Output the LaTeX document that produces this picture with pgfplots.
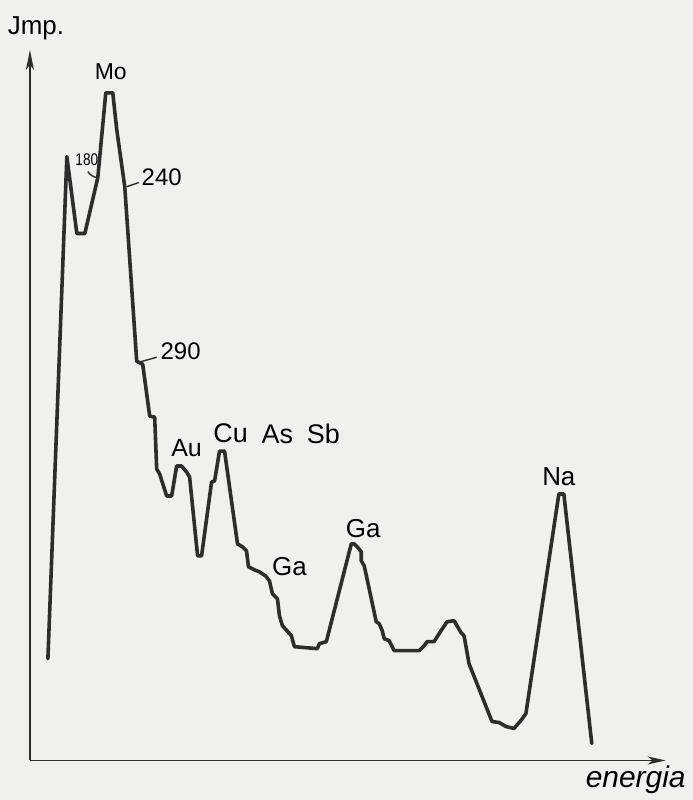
\documentclass[border=0pt]{standalone}
\usepackage{fontspec}
\setmainfont{Liberation Sans}
\usepackage{pgfplots}
\pgfplotsset{compat=1.18}
\usepackage{pgfplotstable}
\usetikzlibrary{arrows.meta,backgrounds}

\definecolor{paper}{RGB}{240,240,238}
\definecolor{ink}{RGB}{45,45,45}

% Spectrum trace: energy channel vs. counts (Jmp.)
\pgfplotstableread{
x   y
48  140
67  643
77  566
85  566
98  622
106 707
113 707
117 670
125 613
137 438
143 435
150 383
155 382
157 330
160 325
167 303
172 303
177 333
182 333
187 327
190 322
198 243
202 243
212 317
215 318
220 348
225 348
238 255
243 252
247 248
249 232
255 229
260 227
266 223
270 218
273 205
278 200
280 183
283 173
292 163
295 152
318 150
320 155
327 157
352 255
355 255
358 252
362 247
362 238
365 233
377 177
380 175
383 168
385 160
390 158
395 148
420 148
425 153
428 157
435 157
440 165
448 177
455 178
458 173
462 166
465 163
470 135
493 77
500 76
507 72
515 70
522 78
527 85
560 305
565 305
593 55
}\spectrum

\begin{document}
\begin{tikzpicture}[show background rectangle,
  background rectangle/.style={fill=paper,draw=none},
  inner frame sep=0pt]
\begin{axis}[
  x=0.5pt, y=0.5pt,
  xmin=30, xmax=667, ymin=38, ymax=750,
  axis lines=left,
  axis line style={ink, line width=0.9pt},
  x axis line style={-{Stealth[length=9pt,width=4pt,inset=2.5pt]}},
  y axis line style={-{Stealth[length=10pt,width=4pt,inset=2.5pt]}},
  xtick=\empty, ytick=\empty,
  clip=false,
]
  \path (axis cs:0,0) rectangle (axis cs:694,800);

  \addplot[ink, line width=1.8pt, line join=round, line cap=round]
    table[x=x,y=y] {\spectrum};

  % leaders from the channel numbers to the trace
  \draw[ink, line width=0.7pt] (axis cs:88,628) to[bend right=20] (axis cs:97,622);
  \draw[ink, line width=0.7pt] (axis cs:127,613) -- (axis cs:139,617);
  \draw[ink, line width=0.7pt] (axis cs:139,437) -- (axis cs:157,442);

  \node[font=\fontsize{13}{15}\selectfont, anchor=base] at (axis cs:36,765) {Jmp.};
  \node[font=\fontsize{11.5}{13}\selectfont] at (axis cs:111,728) {Mo};
  \node[font=\fontsize{8.5}{10}\selectfont, xscale=0.8] at (axis cs:87,640) {180};
  \node[font=\fontsize{12}{14}\selectfont] at (axis cs:162,622) {240};
  \node[font=\fontsize{12}{14}\selectfont] at (axis cs:181,448) {290};
  \node[font=\fontsize{12.5}{14}\selectfont] at (axis cs:187,351) {Au};
  \node[font=\fontsize{13.5}{15}\selectfont] at (axis cs:231,366) {Cu};
  \node[font=\fontsize{13.5}{15}\selectfont] at (axis cs:278,365) {As};
  \node[font=\fontsize{13.5}{15}\selectfont] at (axis cs:324,365) {Sb};
  \node[font=\fontsize{13}{15}\selectfont] at (axis cs:290,232) {Ga};
  \node[font=\fontsize{13}{15}\selectfont] at (axis cs:364,270) {Ga};
  \node[font=\fontsize{13}{15}\selectfont] at (axis cs:560,322) {Na};
  \node[font=\fontsize{15}{17}\selectfont\itshape] at (axis cs:637,19) {energia};
\end{axis}
\end{tikzpicture}
\end{document}
